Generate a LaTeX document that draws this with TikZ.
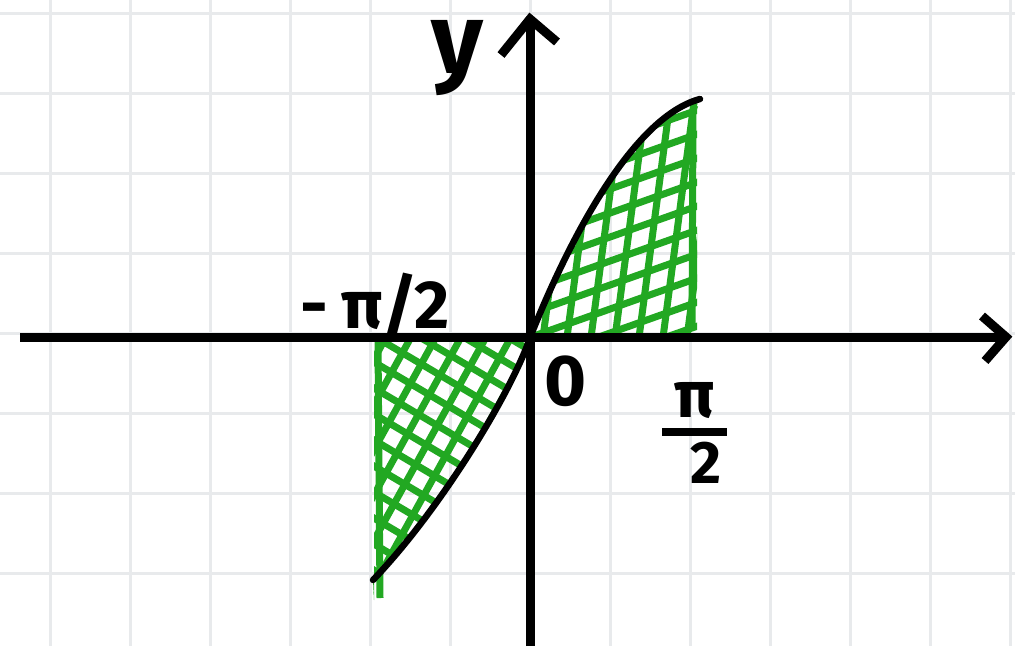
\documentclass[tikz,border=0pt]{standalone}
\usepackage{fontspec}
\setmainfont{Fira Sans}
\definecolor{gridgray}{RGB}{232,234,236}
\definecolor{hatchgreen}{RGB}{34,168,34}
\tikzset{
  gridline/.style={draw=gridgray, line width=3pt},
  axisline/.style={draw=black, line width=9pt},
  tipline/.style={draw=black, line width=9pt, line join=miter},
  curveline/.style={draw=black, line width=6.5pt, line cap=round},
  hatch/.style={draw=hatchgreen, line width=7pt},
  handtext/.style={font=\bfseries, text=black, inner sep=0pt},
}
\begin{document}
\begin{tikzpicture}[x=1pt,y=-1pt]
\useasboundingbox (0,0) rectangle (1015,646);
\fill[white] (0,0) rectangle (1015,646);
% grid paper
\foreach \gx in {50,130,...,1010} \draw[gridline] (\gx,0) -- (\gx,646);
\foreach \gy in {13,93,...,573} \draw[gridline] (0,\gy) -- (1015,\gy);

% named points
\coordinate (O) at (530,337);
\coordinate (xl) at (20,337);
\coordinate (xr) at (1006,337);
\coordinate (xt1) at (982,316);
\coordinate (xt2) at (985,361);
\coordinate (yb) at (530,646);
\coordinate (yt) at (530,19);
\coordinate (yt1) at (501,55);
\coordinate (yt2) at (557,42);
\coordinate (rs) at (531,335);
\coordinate (rtop) at (700,99);
\coordinate (ls) at (530,338);
\coordinate (lbot) at (373,580);

% right hatched region
\begin{scope}
  \clip (rs) .. controls (566,248) and (630,118) .. (rtop) -- (697,110) -- (697,333) -- cycle;
  \foreach \k in {-60,-36,...,320} \draw[hatch] (500,120+\k) -- (740,120+\k-85);
  \foreach \k in {-40,-16,...,200} \draw[hatch] (510+\k,345) -- (545+\k,80);
\end{scope}
\draw[hatch] (693,112) -- (692,330);

% left hatched region
\begin{scope}
  \clip (374,341) -- (528,341) -- (ls) .. controls (510,395) and (440,510) .. (lbot) -- (374,600) -- cycle;
  \foreach \k in {-180,-154,...,260} \draw[hatch] (340,340+\k) -- (560,340+\k+130);
  \foreach \k in {-120,-95,...,300} \draw[hatch] (300+\k,620) -- (460+\k,330);
\end{scope}
\draw[hatch] (378,342) -- (380,598);

% curves
\draw[curveline] (rs) .. controls (566,248) and (630,118) .. (rtop);
\draw[curveline] (ls) .. controls (510,395) and (440,510) .. (lbot);

% axes
\draw[axisline] (xl) -- (xr);
\draw[tipline] (xt1) -- (xr) -- (xt2);
\draw[axisline] (yb) -- (yt);
\draw[tipline] (yt1) -- (yt) -- (yt2);

% labels
\node[handtext, font=\bfseries\fontsize{100}{100}\selectfont] (ylab) at (457,58) {y};
\node[handtext, font=\bfseries\fontsize{68}{68}\selectfont, anchor=base west] (neghalf) at (300,328) {-\hspace{14pt}π/2};
\node[handtext, font=\bfseries\fontsize{72}{72}\selectfont] (zero) at (566,381) {0};
\node[handtext, font=\bfseries\fontsize{66}{66}\selectfont, anchor=base] (pitop) at (695,417) {π};
\node[handtext, font=\bfseries\fontsize{60}{60}\selectfont, anchor=base] (two) at (706,483) {2};
\coordinate (barl) at (662,432);
\coordinate (barr) at (727,432);
\draw[draw=black, line width=8pt] (barl) -- (barr);
\end{tikzpicture}
\end{document}
